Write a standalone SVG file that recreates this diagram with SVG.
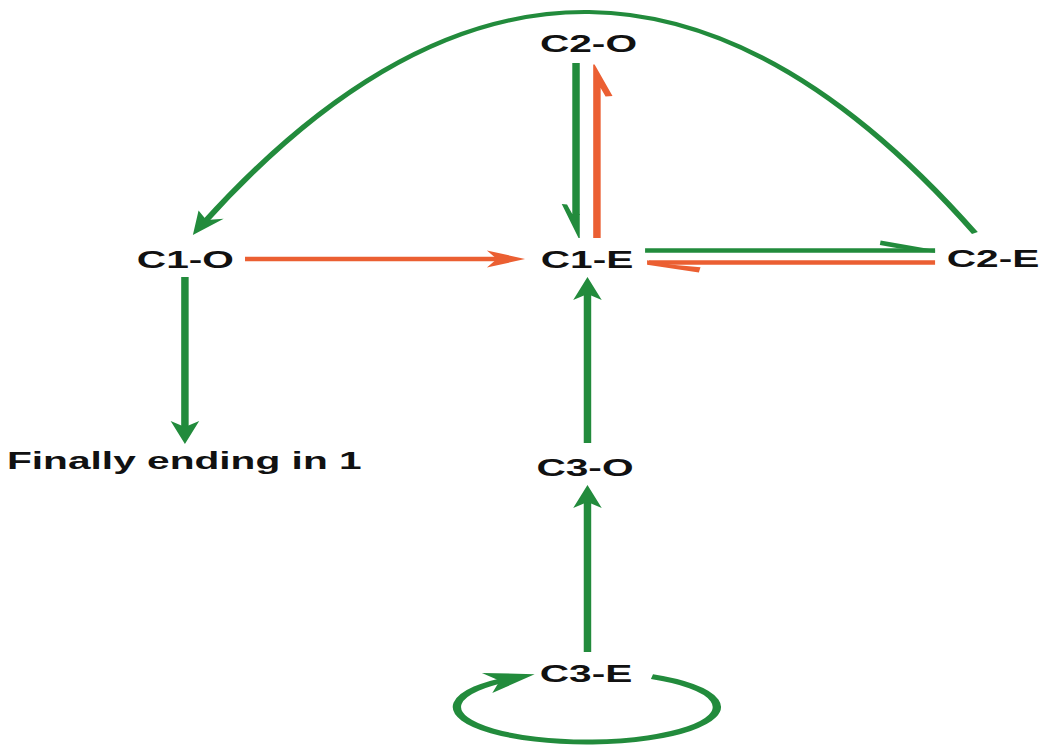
<svg xmlns="http://www.w3.org/2000/svg" width="1041" height="751" viewBox="0 0 1041 751">
<style>
.lbl{font-family:"Liberation Sans",Arial,sans-serif;font-weight:bold;font-size:24.5px;fill:#111;text-anchor:middle}
.g{fill:none;stroke:#228B3C;stroke-width:4.5}
.o{fill:none;stroke:#EB5F32;stroke-width:4.5}
.gf{fill:#228B3C}
.of{fill:#EB5F32}
</style>
<defs>
<marker id="ahG" markerUnits="userSpaceOnUse" viewBox="-12 -10 28 20" refX="0" refY="0" markerWidth="28" markerHeight="20" orient="auto">
<path d="M13,0 L-10,-8.6 L-4,0 L-10,8.6 Z" fill="#228B3C"/>
</marker>
<marker id="ahO" markerUnits="userSpaceOnUse" viewBox="-12 -10 28 20" refX="0" refY="0" markerWidth="28" markerHeight="20" orient="auto">
<path d="M13,0 L-10,-8.6 L-4,0 L-10,8.6 Z" fill="#EB5F32"/>
</marker>
<marker id="ahL" markerUnits="userSpaceOnUse" viewBox="-18 -12 34 24" refX="0" refY="0" markerWidth="34" markerHeight="24" orient="auto">
<path d="M14,0 L-16,-10.5 L-8,0 L-16,10.5 Z" fill="#228B3C"/>
</marker>
</defs>
<rect width="1041" height="751" fill="#fff"/>
<g transform="scale(1.66,1)">
<g id="connectors">
<path class="g" d="M347,63 V215"/>
<polygon class="gf" points="338.4,204 341.6,204.5 344.75,214 349.25,214 349.25,238 348.5,238"/>
<path class="o" d="M359.6,238 V88"/>
<polygon class="of" points="357.35,64.5 358.2,64.5 369,96 364.8,96.5 361.85,88 357.35,88"/>
<path class="g" d="M388.6,250.5 H563.3"/>
<polygon class="gf" points="530.5,240.5 563.3,250 563.3,252.75 541,248.25 530,245"/>
<path class="o" d="M391,262.5 H563.3"/>
<polygon class="of" points="389.8,260.25 405,264.75 422,267.3 421,272.6 389.8,264.75"/>
<path class="o" d="M147.6,259 H303.3" marker-end="url(#ahO)"/>
<path class="g" d="M111.4,277 V431" marker-end="url(#ahG)"/>
<path class="g" d="M353.9,443 V290" marker-end="url(#ahG)"/>
<path class="g" d="M353.9,652 V498" marker-end="url(#ahG)"/>
<path class="g" style="stroke-width:4" d="M587.3,233 Q354.8,-204.3 122.4,223.5" marker-end="url(#ahG)"/>
<path class="g" style="stroke-width:5" d="M392.75,676.7 A78.3,35 0 1 1 308.7,678.3" marker-end="url(#ahL)"/>
</g>
<g id="node-c2o"><text class="lbl" x="354.5" y="52">C2-O</text></g>
<g id="node-c1o"><text class="lbl" x="111.7" y="268">C1-O</text></g>
<g id="node-c1e"><text class="lbl" x="353.6" y="268">C1-E</text></g>
<g id="node-c2e"><text class="lbl" x="598.2" y="267">C2-E</text></g>
<g id="node-c3o"><text class="lbl" x="352.4" y="476">C3-O</text></g>
<g id="node-c3e"><text class="lbl" x="353" y="682">C3-E</text></g>
<g id="node-final"><text class="lbl" style="text-anchor:start" x="4.2" y="469">Finally ending in 1</text></g>
</g>
</svg>
